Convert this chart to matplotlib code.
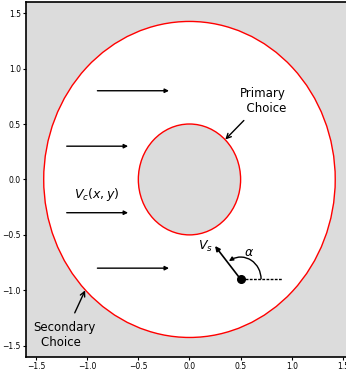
import numpy as np
import matplotlib
matplotlib.use("Agg")
import matplotlib.pyplot as plt
from matplotlib.patches import Circle, Arc

# Geometry of the domain
outer_radius = 1.425
inner_radius = 0.5

# Uniform flow arrows: (x_start, x_end, y)
flow_x0 = [-0.9, -1.2, -1.2, -0.9]
flow_x1 = [-0.2, -0.6, -0.6, -0.2]
flow_y = [0.8, 0.3, -0.3, -0.8]

# Source point and its velocity direction
src = (0.5, -0.9)
vs_tip = (0.25, -0.6)
alpha_deg = 125
ref_end_x = 0.9

ticks = [-1.5, -1.0, -0.5, 0.0, 0.5, 1.0, 1.5]

fig = plt.figure(figsize=(3.46, 3.70), dpi=100)
ax = fig.add_axes([0.0746, 0.0355, 0.946, 0.959])
ax.set_facecolor("gainsboro")
ax.set_xlim(-1.6, 1.6)
ax.set_ylim(-1.6, 1.6)
ax.set_xticks(ticks)
ax.set_yticks(ticks)
ax.tick_params(labelsize=5.5, length=2, width=0.8, pad=1.5)
for s in ax.spines.values():
    s.set_linewidth(1.2)

ax.add_patch(Circle((0, 0), outer_radius, facecolor="white", edgecolor="red", lw=1, zorder=1))
ax.add_patch(Circle((0, 0), inner_radius, facecolor="gainsboro", edgecolor="red", lw=1, zorder=2))

for x0, x1, y in zip(flow_x0, flow_x1, flow_y):
    ax.annotate("", xy=(x1, y), xytext=(x0, y),
                arrowprops=dict(arrowstyle="-|>", color="black", lw=1, mutation_scale=6,
                                shrinkA=0, shrinkB=0))

ax.text(-0.91, -0.14, r"$V_c(x,y)$", fontsize=9, ha="center", va="center")

# Labels for the two boundaries
ax.annotate("Primary\n  Choice", xy=(0.35, 0.36), xytext=(0.72, 0.71),
            fontsize=8.5, ha="center", va="center",
            arrowprops=dict(arrowstyle="->", color="black", lw=1, shrinkA=3, shrinkB=0))
ax.annotate("Secondary\nChoice  ", xy=(-1.02, -1.0), xytext=(-1.22, -1.4),
            fontsize=8.5, ha="center", va="center",
            arrowprops=dict(arrowstyle="->", color="black", lw=1, shrinkA=4, shrinkB=0))

# Source point, its velocity and the reference direction
ax.plot([src[0], ref_end_x], [src[1], src[1]], color="black", lw=1, ls=(0, (2, 1)), zorder=3)
ax.annotate("", xy=vs_tip, xytext=src,
            arrowprops=dict(arrowstyle="-|>", color="black", lw=1.2, mutation_scale=7,
                            shrinkA=0, shrinkB=0), zorder=4)
ax.plot(*src, "o", color="black", ms=5.5, zorder=5)

arc_r = 0.2
ax.add_patch(Arc(src, 2 * arc_r, 2 * arc_r, theta1=0, theta2=alpha_deg - 8, color="black", lw=1))
a_end = np.deg2rad(alpha_deg)
a_pre = np.deg2rad(alpha_deg - 10)
ax.annotate("", xy=(src[0] + arc_r * np.cos(a_end), src[1] + arc_r * np.sin(a_end)),
            xytext=(src[0] + arc_r * np.cos(a_pre), src[1] + arc_r * np.sin(a_pre)),
            arrowprops=dict(arrowstyle="-|>", color="black", lw=1, mutation_scale=6,
                            shrinkA=0, shrinkB=0))
ax.text(0.16, -0.6, r"$V_s$", fontsize=9, ha="center", va="center")
ax.text(0.58, -0.66, r"$\alpha$", fontsize=9, ha="center", va="center")

fig.savefig("out.png", dpi=100)
